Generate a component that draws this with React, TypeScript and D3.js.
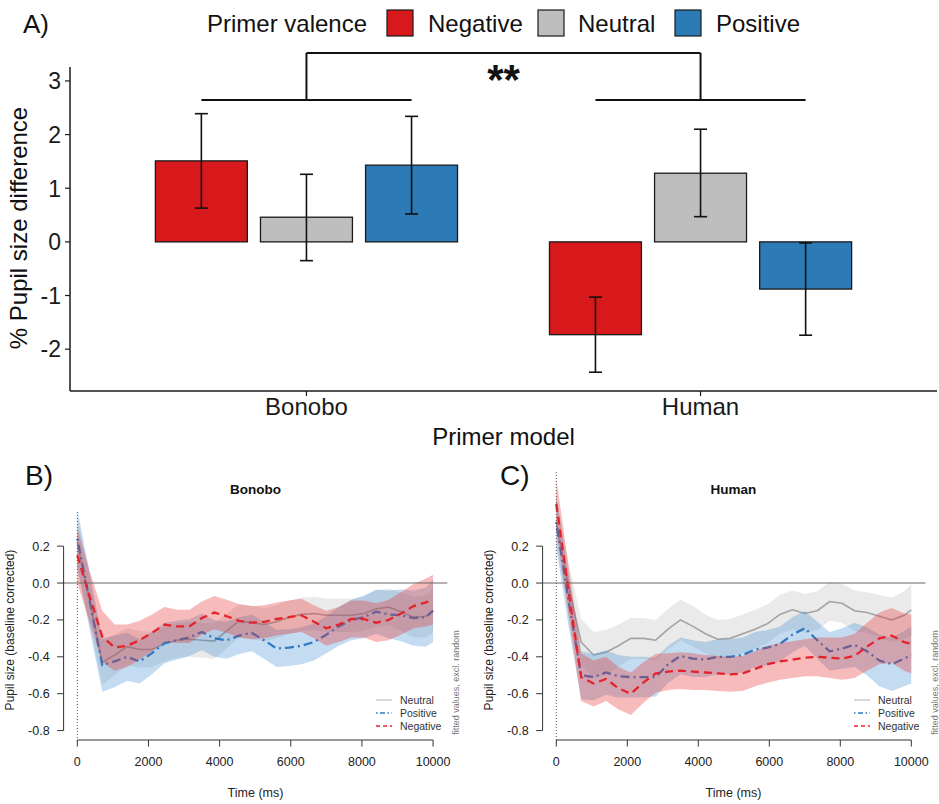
import React from 'react';
import * as d3 from 'd3';

// ---------- Panel A data ----------
const models = ['Bonobo', 'Human'];
const valences = ['Negative', 'Neutral', 'Positive'];
const valenceColors = ['#d7191c', '#bebebe', '#2c7bb6'];
const meanBonobo = [1.51, 0.46, 1.43];
const lowerBonobo = [0.63, -0.35, 0.52];
const upperBonobo = [2.39, 1.26, 2.34];
const meanHuman = [-1.73, 1.28, -0.88];
const lowerHuman = [-2.43, 0.47, -1.74];
const upperHuman = [-1.03, 2.1, -0.02];
const barTicks = [-2, -1, 0, 1, 2, 3];

// ---------- Panels B / C data ----------
const timeMs = [0, 350, 700, 1050, 1400, 1750, 2100, 2450, 2800, 3150, 3500, 3850, 4200, 4550, 4900, 5250, 5600, 5950, 6300, 6650, 7000, 7350, 7700, 8050, 8400, 8750, 9100, 9450, 9800, 10000];

const bonoboNeutral = [0.22, -0.1, -0.43, -0.39, -0.345, -0.36, -0.36, -0.33, -0.31, -0.305, -0.31, -0.315, -0.26, -0.205, -0.215, -0.225, -0.21, -0.185, -0.17, -0.165, -0.175, -0.175, -0.175, -0.165, -0.14, -0.13, -0.155, -0.185, -0.18, -0.15];
const bonoboNeutralCI = [0.14, 0.13, 0.12, 0.11, 0.1, 0.1, 0.095, 0.095, 0.095, 0.095, 0.095, 0.095, 0.095, 0.09, 0.09, 0.09, 0.09, 0.09, 0.09, 0.09, 0.09, 0.09, 0.09, 0.095, 0.1, 0.1, 0.105, 0.11, 0.115, 0.12];
const bonoboPositive = [0.24, -0.1, -0.445, -0.425, -0.4, -0.425, -0.38, -0.325, -0.31, -0.295, -0.265, -0.3, -0.31, -0.285, -0.27, -0.31, -0.355, -0.35, -0.34, -0.32, -0.28, -0.235, -0.2, -0.185, -0.155, -0.17, -0.175, -0.19, -0.185, -0.15];
const bonoboPositiveCI = [0.16, 0.155, 0.145, 0.14, 0.13, 0.12, 0.115, 0.11, 0.105, 0.1, 0.1, 0.1, 0.1, 0.1, 0.1, 0.1, 0.1, 0.1, 0.1, 0.1, 0.1, 0.105, 0.11, 0.115, 0.12, 0.13, 0.14, 0.15, 0.16, 0.17];
const bonoboNegative = [0.15, -0.075, -0.29, -0.35, -0.34, -0.31, -0.27, -0.225, -0.235, -0.235, -0.19, -0.16, -0.18, -0.205, -0.215, -0.21, -0.195, -0.185, -0.175, -0.21, -0.245, -0.225, -0.195, -0.195, -0.215, -0.2, -0.165, -0.125, -0.105, -0.09];
const bonoboNegativeCI = [0.15, 0.14, 0.14, 0.125, 0.115, 0.105, 0.1, 0.095, 0.09, 0.09, 0.09, 0.09, 0.09, 0.09, 0.09, 0.09, 0.09, 0.09, 0.09, 0.09, 0.095, 0.095, 0.1, 0.1, 0.105, 0.11, 0.115, 0.12, 0.13, 0.135];

const humanNeutral = [0.33, -0.02, -0.32, -0.39, -0.375, -0.34, -0.3, -0.3, -0.31, -0.25, -0.2, -0.235, -0.275, -0.305, -0.3, -0.275, -0.25, -0.22, -0.17, -0.145, -0.165, -0.15, -0.1, -0.11, -0.15, -0.16, -0.18, -0.2, -0.175, -0.145];
const humanNeutralCI = [0.13, 0.13, 0.125, 0.125, 0.12, 0.115, 0.11, 0.11, 0.11, 0.11, 0.11, 0.11, 0.105, 0.105, 0.105, 0.105, 0.105, 0.105, 0.105, 0.105, 0.105, 0.105, 0.105, 0.105, 0.11, 0.11, 0.115, 0.12, 0.13, 0.14];
const humanPositive = [0.33, -0.1, -0.5, -0.51, -0.485, -0.505, -0.51, -0.51, -0.51, -0.44, -0.395, -0.41, -0.415, -0.4, -0.4, -0.39, -0.36, -0.35, -0.33, -0.28, -0.245, -0.31, -0.37, -0.355, -0.335, -0.37, -0.42, -0.44, -0.41, -0.39];
const humanPositiveCI = [0.14, 0.14, 0.13, 0.125, 0.12, 0.115, 0.11, 0.11, 0.105, 0.1, 0.1, 0.1, 0.095, 0.095, 0.095, 0.095, 0.095, 0.095, 0.095, 0.095, 0.095, 0.1, 0.105, 0.11, 0.12, 0.13, 0.14, 0.145, 0.15, 0.155];
const humanNegative = [0.43, -0.05, -0.51, -0.545, -0.52, -0.57, -0.6, -0.54, -0.49, -0.48, -0.475, -0.48, -0.485, -0.49, -0.495, -0.49, -0.465, -0.44, -0.425, -0.415, -0.405, -0.4, -0.405, -0.41, -0.395, -0.345, -0.3, -0.285, -0.32, -0.33];
const humanNegativeCI = [0.14, 0.135, 0.13, 0.125, 0.12, 0.115, 0.115, 0.11, 0.105, 0.1, 0.1, 0.1, 0.095, 0.095, 0.095, 0.095, 0.095, 0.1, 0.1, 0.1, 0.1, 0.105, 0.11, 0.115, 0.12, 0.13, 0.14, 0.15, 0.155, 0.16];

const timeTicks = [0, 2000, 4000, 6000, 8000, 10000];
const pupilTicks = [0.2, 0, -0.2, -0.4, -0.6, -0.8];
const seriesNames = ['Neutral', 'Positive', 'Negative'];

const FONT = '"Liberation Sans", Arial, Helvetica, sans-serif';

function PanelA() {
  const y = d3.scaleLinear().domain([-2.78, 3.26]).range([391, 67]);
  const x = d3.scalePoint<string>().domain(models).range([70, 937]).padding(0.6);
  const step = x.step();
  const sub = d3.scaleBand<string>().domain(valences).range([-0.4 * step, 0.4 * step]).paddingInner(0.125).paddingOuter(0.0625);
  const bw = sub.bandwidth();
  const groups = [
    { m: 'Bonobo', mean: meanBonobo, lo: lowerBonobo, hi: upperBonobo },
    { m: 'Human', mean: meanHuman, lo: lowerHuman, hi: upperHuman },
  ];
  const cx = (m: string, v: string) => (x(m) as number) + (sub(v) as number) + bw / 2;
  const bracketY = y(2.645);
  const topY = 53;
  const legendItems = [
    { label: 'Negative', keyX: 387, textX: 428 },
    { label: 'Neutral', keyX: 538, textX: 578 },
    { label: 'Positive', keyX: 675, textX: 716 },
  ];
  return (
    <g fontFamily={FONT}>
      <text x={23} y={33} fontSize={26} fill="#111">A)</text>
      <text x={207} y={31.5} fontSize={24} fill="#111">Primer valence</text>
      {legendItems.map((it, i) => (
        <g key={it.label}>
          <rect x={it.keyX} y={10} width={26} height={26} fill={valenceColors[i]} stroke="#1a1a1a" strokeWidth={1.2} />
          <text x={it.textX} y={31.5} fontSize={24} fill="#111">{it.label}</text>
        </g>
      ))}
      {/* bars */}
      {groups.map((g) => (
        <g key={g.m}>
          {valences.map((v, i) => {
            const val = g.mean[i];
            const left = (x(g.m) as number) + (sub(v) as number);
            return (
              <rect key={v} x={left} y={y(Math.max(0, val))} width={bw} height={Math.abs(y(val) - y(0))}
                fill={valenceColors[i]} stroke="#1a1a1a" strokeWidth={1.3} />
            );
          })}
          {valences.map((v, i) => {
            const c = cx(g.m, v);
            return (
              <g key={v + 'e'} stroke="#111" strokeWidth={1.6}>
                <line x1={c} x2={c} y1={y(g.lo[i])} y2={y(g.hi[i])} />
                <line x1={c - 6.5} x2={c + 6.5} y1={y(g.lo[i])} y2={y(g.lo[i])} />
                <line x1={c - 6.5} x2={c + 6.5} y1={y(g.hi[i])} y2={y(g.hi[i])} />
              </g>
            );
          })}
          <line x1={cx(g.m, 'Negative')} x2={cx(g.m, 'Positive')} y1={bracketY} y2={bracketY} stroke="#111" strokeWidth={2} />
          <line x1={x(g.m) as number} x2={x(g.m) as number} y1={bracketY} y2={topY} stroke="#111" strokeWidth={2} />
        </g>
      ))}
      <line x1={x('Bonobo') as number} x2={x('Human') as number} y1={topY} y2={topY} stroke="#111" strokeWidth={2} />
      <text x={((x('Bonobo') as number) + (x('Human') as number)) / 2} y={94} fontSize={42} fontWeight="bold" textAnchor="middle" fill="#111">**</text>
      {/* axes */}
      <line x1={70} x2={70} y1={67} y2={391} stroke="#1a1a1a" strokeWidth={1.5} />
      <line x1={70} x2={937} y1={391} y2={391} stroke="#1a1a1a" strokeWidth={1.5} />
      {barTicks.map((t) => (
        <g key={t}>
          <line x1={65} x2={70} y1={y(t)} y2={y(t)} stroke="#1a1a1a" strokeWidth={1.2} />
          <text x={61} y={y(t)} dy="0.36em" fontSize={23} textAnchor="end" fill="#1a1a1a">{t < 0 ? '-' + Math.abs(t) : t}</text>
        </g>
      ))}
      {models.map((m) => (
        <g key={m}>
          <line x1={x(m) as number} x2={x(m) as number} y1={391} y2={396} stroke="#1a1a1a" strokeWidth={1.2} />
          <text x={x(m) as number} y={415} fontSize={24} textAnchor="middle" fill="#1a1a1a">{m}</text>
        </g>
      ))}
      <text x={503.5} y={445} fontSize={24} textAnchor="middle" fill="#111">Primer model</text>
      <text transform="translate(27,228) rotate(-90)" fontSize={24} textAnchor="middle" fill="#111">% Pupil size difference</text>
    </g>
  );
}

type Series = { v: number[]; ci: number[] };

function TimePanel(props: { x0: number; x1: number; top: number; label: string; title: string; titleX: number; labelX: number; ytitleX: number; noteX: number; legX: number; series: Series[] }) {
  const { x0, x1, top, series } = props;
  const x = d3.scaleLinear().domain([-400, 10400]).range([x0, x1]);
  const y = d3.scaleLinear().domain([-0.851, 0.396]).range([740, 510]);
  const bandCols = ['rgba(185,185,185,0.3)', 'rgba(60,140,210,0.3)', 'rgba(235,50,50,0.33)'];
  const lineCols = ['#a3a3a3', '#2f78c2', '#e6232b'];
  const lineW = [1.6, 2.3, 2.3];
  const dash = ['', '2,4,9,4', '8,5'];
  const area = (s: Series) =>
    d3.area<number>().x((_, i) => x(timeMs[i])).y0((_, i) => y(s.v[i] - s.ci[i])).y1((_, i) => y(s.v[i] + s.ci[i]))(s.v) || '';
  const line = (s: Series) => d3.line<number>().x((_, i) => x(timeMs[i])).y((d) => y(d))(s.v) || '';
  const xAxisLeft = x(0);
  const xAxisRight = x(10000);
  const yAxisX = x0 + 0.5;
  const clipId = 'clip' + props.title;
  return (
    <g fontFamily={FONT}>
      <defs>
        <clipPath id={clipId}>
          <rect x={x0} y={top} width={x1 - x0} height={740 - top} />
        </clipPath>
      </defs>
      <text x={props.labelX} y={485} fontSize={28} fill="#111">{props.label}</text>
      <text x={props.titleX} y={494} fontSize={13.5} fontWeight="bold" textAnchor="middle" fill="#111">{props.title}</text>
      <g clipPath={`url(#${clipId})`}>
        {series.map((s, k) => (
          <g key={k}>
            <path d={area(s)} fill={bandCols[k]} stroke="none" />
            <path d={line(s)} fill="none" stroke={lineCols[k]} strokeWidth={lineW[k]} strokeDasharray={dash[k]} />
          </g>
        ))}
        <line x1={x(0)} x2={x(0)} y1={top} y2={740} stroke="#444" strokeWidth={0.9} strokeDasharray="1,2" />
      </g>
      <line x1={x0} x2={x1} y1={y(0)} y2={y(0)} stroke="#666" strokeWidth={1.1} />
      {/* y axis */}
      <line x1={yAxisX} x2={yAxisX} y1={y(0.2)} y2={y(-0.8)} stroke="#333" strokeWidth={1} />
      {pupilTicks.map((t) => (
        <g key={t}>
          <line x1={yAxisX - 6.5} x2={yAxisX} y1={y(t)} y2={y(t)} stroke="#333" strokeWidth={1} />
          <text x={yAxisX - 14} y={y(t)} dy="0.36em" fontSize={12.5} textAnchor="end" fill="#222">{t.toFixed(1).replace('-0.0', '0.0')}</text>
        </g>
      ))}
      {/* x axis */}
      <line x1={xAxisLeft} x2={xAxisRight} y1={740} y2={740} stroke="#333" strokeWidth={1} />
      {timeTicks.map((t) => (
        <g key={t}>
          <line x1={x(t)} x2={x(t)} y1={740} y2={746.5} stroke="#333" strokeWidth={1} />
          <text x={x(t)} y={766} fontSize={12.5} textAnchor="middle" fill="#222">{t}</text>
        </g>
      ))}
      <text x={props.titleX} y={797} fontSize={12.5} textAnchor="middle" fill="#222">Time (ms)</text>
      <text transform={`translate(${props.ytitleX},630) rotate(-90)`} fontSize={12} textAnchor="middle" fill="#222">Pupil size (baseline corrected)</text>
      <text transform={`translate(${props.noteX},682.5) rotate(-90)`} fontSize={9} textAnchor="middle" fill="#777">fitted values, excl. random</text>
      {/* legend */}
      {seriesNames.map((n, k) => (
        <g key={n}>
          <line x1={props.legX} x2={props.legX + 16} y1={700 + k * 13} y2={700 + k * 13} stroke={k === 0 ? '#cfcfcf' : lineCols[k]} strokeWidth={k === 0 ? 1.6 : 1.4} strokeDasharray={k === 1 ? '1.5,2.5,5,2.5' : k === 2 ? '4,3' : ''} />
          <text x={props.legX + 24} y={700 + k * 13} dy="0.35em" fontSize={10.5} fill="#333">{n}</text>
        </g>
      ))}
    </g>
  );
}

export default function App() {
  const bonoboSeries: Series[] = [
    { v: bonoboNeutral, ci: bonoboNeutralCI },
    { v: bonoboPositive, ci: bonoboPositiveCI },
    { v: bonoboNegative, ci: bonoboNegativeCI },
  ];
  const humanSeries: Series[] = [
    { v: humanNeutral, ci: humanNeutralCI },
    { v: humanPositive, ci: humanPositiveCI },
    { v: humanNegative, ci: humanNegativeCI },
  ];
  return (
    <svg width={939} height={804} style={{ position: 'absolute', left: 0, top: 0, background: '#fff' }}>
      <rect width={939} height={804} fill="#fff" />
      <PanelA />
      <TimePanel x0={63.1} x1={447.3} top={512} label="B)" title="Bonobo" titleX={255.5} labelX={25} ytitleX={14} noteX={459} legX={376} series={bonoboSeries} />
      <TimePanel x0={542.1} x1={925.5} top={472} label="C)" title="Human" titleX={733.5} labelX={500} ytitleX={493} noteX={937.5} legX={854} series={humanSeries} />
    </svg>
  );
}
